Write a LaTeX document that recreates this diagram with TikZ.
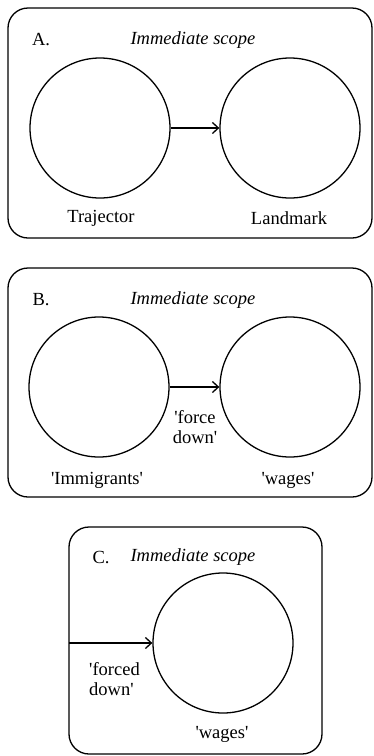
\documentclass[tikz,border=0pt]{standalone}
\usepackage{fontspec}
\setmainfont{Liberation Serif}[Ligatures=TeXOff]
\usetikzlibrary{arrows.meta}
\begin{document}
\begin{tikzpicture}[x=1pt,y=-1pt,
  frame/.style={draw,line width=1.3pt,rounded corners=20pt},
  ent/.style={draw,circle,line width=1.3pt,minimum size=140pt,inner sep=0pt},
  lbl/.style={font=\fontsize{18.5}{20}\selectfont,inner sep=0pt},
  rel/.style={line width=1.3pt,-{Straight Barb[length=6pt,width=11pt,line width=1.3pt]}}]
\useasboundingbox (0,0) rectangle (374,756);
% A
\draw[frame] (8,8) rectangle (372,238);
\node[lbl] (aA) at (41,40) {A.};
\node[lbl] (aS) at (193,40) {\itshape Immediate scope};
\node[ent] (atr) at (100,128) {};
\node[ent] (alm) at (290,128) {};
\draw[rel] (atr.east) -- (alm.west);
\node[lbl] (atl) at (101,218) {Trajector};
\node[lbl] (all) at (289,218) {Landmark};
% B
\draw[frame] (8,268) rectangle (372,497);
\node[lbl] (bB) at (41,300) {B.};
\node[lbl] (bS) at (193,300) {\itshape Immediate scope};
\node[ent] (btr) at (99,387) {};
\node[ent] (blm) at (290,387) {};
\draw[rel] (btr.east) -- (blm.west);
\node[lbl,align=center] (bf) at (195,427) {'force\\down'};
\node[lbl] (bil) at (97,480) {'Immigrants'};
\node[lbl] (bwl) at (288,480) {'wages'};
% C
\draw[frame] (69,527) rectangle (322,754);
\node[lbl] (cC) at (101,557) {C.};
\node[lbl] (cS) at (193,557) {\itshape Immediate scope};
\node[ent] (clm) at (223,643) {};
\coordinate (cin) at (69,643);
\draw[rel] (cin) -- (clm.west);
\node[lbl,align=left,anchor=west] (cf) at (89,679) {'forced\\down'};
\node[lbl] (cwl) at (222,734) {'wages'};
\end{tikzpicture}
\end{document}
